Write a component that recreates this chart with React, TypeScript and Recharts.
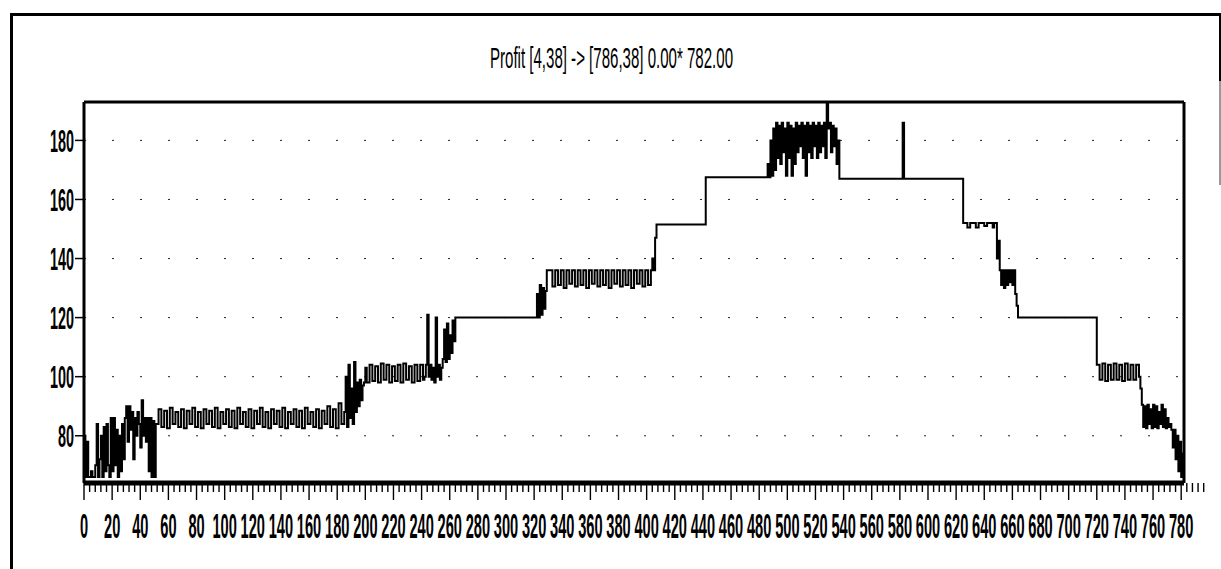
import React from "react";
import { LineChart, Line, XAxis, YAxis, CartesianGrid, ReferenceLine } from "recharts";

const title = "Profit [4,38] -> [786,38] 0.00* 782.00";

// tick labels
const xLabels = [0, 20, 40, 60, 80, 100, 120, 140, 160, 180, 200, 220, 240, 260, 280, 300, 320, 340, 360, 380, 400, 420, 440, 460, 480, 500, 520, 540, 560, 580, 600, 620, 640, 660, 680, 700, 720, 740, 760, 780];
const yLabels = [80, 100, 120, 140, 160, 180];

// noisy runs of the profit curve: first x, x step
const runStart = { from: 0, step: 1, values: [80, 66, 78, 66, 66, 68, 66, 66, 70, 84, 66, 72, 80, 66, 83, 68, 84, 70, 66, 86, 68, 86, 70, 82, 66, 80, 68, 84, 72, 86, 90, 78, 90, 82, 88, 72, 86, 80, 88, 84, 76, 92, 80, 86, 78, 86, 68, 86, 66, 85, 66] };
const run80 = { from: 51, step: 2, values: [84, 89, 83, 88.5, 82.5, 89.5, 84, 88, 83, 89, 82.5, 88.5, 84, 89.5, 83, 88, 82.5, 89, 84, 88.5, 83, 89.5, 82.5, 88, 84, 89, 83, 88.5, 82.5, 89.5, 84, 88, 83, 89, 82.5, 88.5, 84, 89.5, 83, 88, 82.5, 89, 84, 88.5, 83, 89.5, 82.5, 88, 84, 89, 83, 88.5, 82.5, 89.5, 84, 88, 83, 89, 82.5, 88.5, 84, 90, 83, 89, 82.5, 91, 84, 88] };
const runUp100 = { from: 186, step: 1, values: [100, 83, 104, 86, 96, 84, 105, 88, 98, 90, 99, 92, 97, 98, 103] };
const run100 = { from: 201, step: 2, values: [98, 104, 98.5, 103.5, 98, 104.5, 99, 104, 98, 103.5, 98.5, 104, 98, 104.5, 99, 103.5, 98, 104, 98.5, 104, 99] };
const runUp120 = { from: 242, step: 1, values: [100, 104, 121, 100, 104, 99, 103, 98, 120, 100, 104, 99, 103, 106, 116, 105, 118, 106, 114, 108, 119, 112, 120] };
const runUp136 = { from: 322, step: 1, values: [128, 120, 131, 121, 130, 123, 129, 136] };
const run136 = { from: 331, step: 2, values: [136, 130.5, 136, 131, 136, 130, 136, 131.5, 136, 130.5, 136, 131, 136, 130, 136, 131.5, 136, 130.5, 136, 131, 136, 130, 136, 131.5, 136, 130.5, 136, 131, 136, 130, 136, 131.5, 136, 130.5, 136, 131, 136] };
const runUp152 = { from: 404, step: 1, values: [140, 136, 147, 151.5] };
const runTop = { from: 486, step: 1, values: [172, 167.5, 180, 168, 184, 170, 186, 174, 185, 172, 186, 176, 184, 168, 186, 174, 185, 168, 184, 172, 186, 176, 185, 178, 186, 174, 185, 168, 186, 176, 185, 174, 186, 178, 185, 174, 186, 176, 185, 178, 186, 174, 192.5, 184, 186, 176, 185, 178, 184, 172, 180, 167] };
const runDown136 = { from: 649, step: 1, values: [140, 146, 136, 131, 136, 130, 136, 131, 136, 132, 136, 131, 136, 128, 124, 120] };
const runDown100 = { from: 720, step: 2, values: [104, 99, 104.5, 98.5, 104, 99, 104.5, 99, 104, 98.5, 104.5, 99, 104, 99, 104, 100] };
const runDown80 = { from: 751, step: 1, values: [96, 90.5, 83, 90, 82.5, 90.5, 84, 89, 82.5, 90.5, 83, 90, 82.5, 88, 84, 90.5, 83, 89, 82.5, 86, 83, 84] };
const runEnd = { from: 773, step: 1, values: [82, 76, 82, 72, 80, 68, 78, 66, 74, 66] };

// plateau corners [x, profit]
const plateaus: [number, number][] = [
  [321, 120], [441, 151.5], [442, 167.5], [485, 167.5],
  [581, 167], [582, 186], [583, 167], [624, 167],
  [625, 152], [628, 150.5], [630, 152], [634, 150.5], [636, 152], [640, 151], [642, 152], [646, 150.5], [647, 152],
  [719, 120],
];

const runs = [runStart, run80, runUp100, run100, runUp120, runUp136, run136, runUp152, runTop, runDown136, runDown100, runDown80, runEnd];

const points = [
  ...runs.flatMap((r) => r.values.map((v, i) => ({ x: r.from + i * r.step, profit: v }))),
  ...plateaus.map(([x, v]) => ({ x, profit: v })),
].sort((a, b) => a.x - b.x);

const tickMarks = xLabels.flatMap((t) => [t, t + 4, t + 8, t + 12, t + 16]);

const font = "'Liberation Sans', Arial, sans-serif";

// tall narrow glyphs like the old printout: small font stretched vertically
function XTick(props: any) {
  const { x, y, payload } = props;
  const major = payload.value % 20 === 0;
  return (
    <g>
      <line x1={x} x2={x} y1={y} y2={y + (major ? 17 : 9)} stroke="#000" strokeWidth={1.4} />
      {major && (
        <text transform={`translate(${x},${y + 55}) scale(0.86,2.05)`} textAnchor="middle" fontSize={17} fontWeight="bold" fontFamily={font} fill="#000">
          {payload.value}
        </text>
      )}
    </g>
  );
}

function YTick(props: any) {
  const { x, y, payload } = props;
  return (
    <text transform={`translate(${x},${y + 11.5}) scale(0.9,2)`} textAnchor="end" fontSize={16} fontWeight="bold" fontFamily={font} fill="#000">
      {payload.value}
    </text>
  );
}

export default function App() {
  return (
    <div style={{ position: "absolute", left: 0, top: 0, width: 1221, height: 569, background: "#fff", overflow: "hidden" }}>
      {/* scanned page frame */}
      <div style={{ position: "absolute", left: 10, top: 13, width: 3, height: 556, background: "#000" }} />
      <div style={{ position: "absolute", left: 10, top: 13, width: 1211, height: 2.5, background: "#000" }} />
      <div style={{ position: "absolute", left: 1219, top: 13, width: 2, height: 68, background: "#000" }} />
      <div style={{ position: "absolute", left: 1219, top: 81, width: 1.5, height: 104, background: "#999" }} />

      <svg style={{ position: "absolute", left: 0, top: 0 }} width={1221} height={100}>
        <text x={490} y={68} fontSize={30} fontFamily={font} fill="#000" textLength={243} lengthAdjust="spacingAndGlyphs">
          {title}
        </text>
      </svg>

      <div style={{ position: "absolute", left: 0, top: 0 }}>
        <LineChart width={1221} height={569} data={points} margin={{ top: 102, right: 37, bottom: 26, left: 24 }}>
          <CartesianGrid vertical={false} stroke="#222" strokeDasharray="2 26" />
          <XAxis
            dataKey="x"
            type="number"
            domain={[0, 782]}
            ticks={tickMarks}
            interval={0}
            height={60}
            tickSize={0}
            tickMargin={0}
            tickLine={false}
            axisLine={{ stroke: "#000", strokeWidth: 5 }}
            tick={(p: any) => <XTick {...p} />}
            allowDataOverflow
          />
          <YAxis
            type="number"
            domain={[64, 193]}
            ticks={yLabels}
            interval={0}
            width={60}
            tickSize={9}
            tickMargin={1}
            axisLine={{ stroke: "#000", strokeWidth: 3 }}
            tickLine={{ stroke: "#000", strokeWidth: 1.5 }}
            tick={(p: any) => <YTick {...p} />}
            allowDataOverflow
          />
          <ReferenceLine y={193} stroke="#000" strokeWidth={3} />
          <ReferenceLine x={782} stroke="#000" strokeWidth={3} />
          <Line type="stepAfter" dataKey="profit" stroke="#000" strokeWidth={2} dot={false} isAnimationActive={false} />
        </LineChart>
      </div>
    </div>
  );
}
